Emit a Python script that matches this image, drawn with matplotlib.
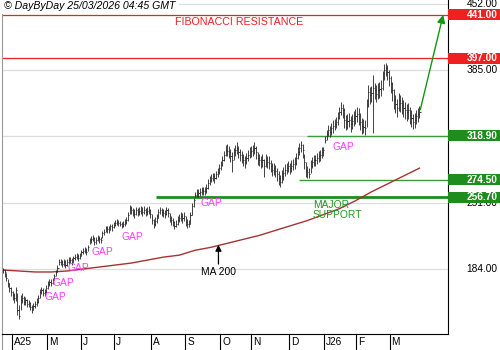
import matplotlib.pyplot as plt
from matplotlib.patches import Rectangle
from matplotlib.transforms import blended_transform_factory

plt.rcParams["font.family"] = ["Liberation Sans", "DejaVu Sans"]

# daily bars, one per trading day (late Mar 2025 -> Mar 2026)
close = [
    183, 181, 175, 170, 165, 161, 158, 155, 163, 143,
    137, 153, 155, 151, 153, 149, 150, 146, 143, 147,
    149, 151, 155, 161, 163, 160, 161, 165, 169, 171,
    170, 173, 177, 181, 185, 191, 191, 189, 191, 188,
    191, 193, 193, 191, 195, 196, 197, 195, 197, 201,
    202, 203, 201, 206, 213, 214, 215, 211, 213, 215,
    214, 213, 220, 221, 225, 224, 223, 228, 226, 229,
    231, 232, 231, 230, 228, 230, 232, 234, 239, 246,
    244, 242, 240, 244, 242, 243, 244, 242, 244, 242,
    243, 244, 240, 234, 230, 233, 236, 242, 244, 242,
    241, 240, 244, 241, 236, 234, 232, 228, 230, 234,
    236, 238, 236, 238, 232, 230, 230, 239, 248, 254,
    259, 262, 261, 262, 264, 263, 263, 266, 271, 274,
    276, 278, 276, 280, 282, 286, 289, 294, 299, 304,
    303, 302, 298, 294, 302, 304, 306, 302, 299, 297,
    294, 292, 296, 299, 302, 303, 304, 306, 302, 296,
    294, 292, 294, 288, 294, 292, 291, 288, 284, 286,
    283, 280, 276, 272, 278, 281, 284, 286, 288, 286,
    288, 290, 291, 296, 302, 306, 309, 304, 292, 284,
    282, 280, 288, 292, 294, 294, 296, 298, 299, 302,
    304, 314, 321, 325, 323, 327, 329, 331, 333, 337,
    343, 347, 345, 335, 333, 334, 335, 331, 334, 337,
    339, 341, 339, 333, 329, 328, 327, 350, 363, 360,
    362, 367, 365, 361, 365, 366, 367, 377, 385, 387,
    383, 377, 371, 365, 355, 351, 347, 355, 352, 350,
    347, 345, 343, 345, 340, 337, 333, 335, 339, 341,
    343,
]
high = [
    185, 184, 180, 174, 170, 166, 162, 160, 166, 160,
    148, 158, 160, 157, 156, 154, 153, 151, 148, 150,
    152, 155, 158, 164, 166, 165, 164, 168, 172, 174,
    174, 175, 179, 183, 188, 194, 194, 193, 194, 193,
    194, 196, 196, 195, 197, 199, 200, 199, 200, 203,
    205, 206, 205, 208, 215, 217, 218, 216, 216, 218,
    217, 216, 222, 224, 228, 227, 227, 230, 230, 232,
    234, 235, 234, 233, 232, 233, 235, 237, 242, 249,
    248, 246, 245, 247, 246, 247, 248, 247, 248, 246,
    247, 248, 245, 240, 235, 237, 240, 245, 247, 246,
    245, 244, 247, 246, 241, 238, 236, 233, 234, 238,
    240, 242, 241, 242, 238, 235, 234, 242, 251, 256,
    262, 265, 265, 266, 267, 267, 267, 270, 275, 278,
    280, 281, 281, 283, 286, 290, 293, 298, 303, 309,
    310, 308, 305, 302, 306, 309, 312, 308, 305, 303,
    300, 298, 301, 304, 307, 308, 309, 312, 308, 302,
    300, 298, 300, 295, 300, 298, 298, 294, 291, 291,
    289, 286, 283, 279, 284, 287, 290, 291, 293, 291,
    294, 295, 297, 301, 307, 311, 313, 310, 300, 292,
    288, 286, 294, 297, 299, 299, 301, 303, 304, 307,
    307, 318, 325, 330, 329, 332, 335, 336, 338, 343,
    348, 353, 351, 347, 340, 341, 342, 339, 341, 344,
    346, 348, 347, 342, 337, 336, 335, 356, 370, 368,
    369, 380, 372, 370, 372, 373, 375, 384, 391, 392,
    390, 385, 379, 373, 366, 360, 356, 362, 360, 358,
    355, 353, 351, 352, 348, 345, 341, 342, 345, 347,
    349,
]
low = [
    180, 176, 172, 166, 161, 157, 153, 150, 152, 138,
    133, 143, 150, 148, 148, 146, 146, 143, 140, 143,
    145, 147, 150, 155, 159, 157, 157, 160, 164, 167,
    167, 169, 173, 177, 181, 188, 188, 186, 187, 185,
    187, 189, 190, 188, 191, 193, 194, 192, 194, 197,
    199, 200, 198, 202, 209, 210, 212, 208, 209, 212,
    210, 210, 215, 218, 221, 220, 220, 223, 222, 225,
    227, 229, 228, 227, 225, 226, 228, 230, 233, 240,
    240, 238, 236, 239, 238, 239, 240, 238, 240, 238,
    239, 240, 236, 230, 225, 228, 231, 236, 240, 238,
    237, 236, 239, 237, 232, 229, 227, 224, 226, 229,
    232, 233, 231, 233, 228, 225, 226, 230, 239, 247,
    257, 257, 257, 258, 259, 259, 259, 261, 265, 269,
    272, 273, 271, 275, 277, 280, 284, 288, 293, 298,
    298, 296, 292, 282, 294, 298, 300, 296, 293, 291,
    288, 286, 290, 293, 296, 297, 298, 300, 295, 289,
    288, 286, 287, 277, 287, 286, 285, 282, 278, 279,
    277, 273, 269, 267, 271, 274, 278, 280, 282, 280,
    282, 284, 285, 289, 295, 299, 302, 296, 285, 277,
    276, 276, 281, 286, 288, 288, 290, 292, 293, 296,
    298, 311, 314, 318, 317, 320, 322, 325, 327, 330,
    336, 340, 337, 327, 325, 326, 328, 323, 326, 329,
    331, 333, 330, 325, 321, 322, 320, 328, 348, 351,
    353, 322, 356, 353, 356, 357, 359, 365, 375, 379,
    375, 369, 362, 354, 346, 342, 338, 344, 343, 341,
    338, 336, 334, 336, 331, 328, 326, 327, 331, 333,
    337,
]
# 200 day moving average, every 10th bar
ma_idx = list(range(0, 261, 10))
ma200 = [183, 182, 181, 181, 182, 184, 186, 188, 190, 193, 196, 198, 203, 206,
         210, 214, 218, 223, 228, 233, 239, 245, 253, 262, 270, 278, 286]

months = ["A25", "M", "J", "J", "A", "S", "O", "N", "D", "J26", "F", "M"]
month_start = [5.6, 27.5, 48.8, 69.4, 92.5, 113.8, 135.6, 155, 178.8, 200.6, 220.6, 241.3]

resistance = [441.00, 397.00]
support = [318.90, 274.50, 256.70]
grid_levels = [452, 385, 318, 251, 184]
gap_labels = [(26, 156), (30.6, 170), (40, 185), (55, 201), (73.8, 216.5),
              (123, 251), (205.6, 307.4)]
target = 441.00

RED = "#ee2020"
GREEN = "#1e8c1e"
LGREEN = "#3c9a3c"
PINK = "#ff3cff"

fig = plt.figure(figsize=(5, 3.5), dpi=100)
ax = fig.add_axes([0.003, 16 / 350, 446 / 500, 334 / 350])
ax.set_xlim(-0.94, 277.5)
ax.set_ylim(118.3, 456)
ax.set_xticks([])
ax.set_yticks([])
ax.spines["top"].set_visible(False)
ax.spines["left"].set_color("#999999")
ax.spines["right"].set_color("black")
ax.spines["bottom"].set_color("black")

for g in grid_levels:
    ax.axhline(g, color="#dddddd", lw=0.9, zorder=0)

# price bars
n = len(close)
idx = list(range(n))
ax.vlines(idx, low, high, color="#222222", lw=0.6, zorder=3)
ax.hlines(close, [i for i in idx], [i + 0.7 for i in idx], color="#222222", lw=0.6, zorder=3)

ax.plot(ma_idx, ma200, color="#a83232", lw=1.0, zorder=2)

# levels
for r in resistance:
    ax.axhline(r, color=RED, lw=0.9, zorder=1)
ax.hlines(support[0], 190, 277.5, color=LGREEN, lw=1.0, zorder=1)
ax.hlines(support[1], 185, 277.5, color=LGREEN, lw=1.0, zorder=1)
ax.hlines(support[2], 95.5, 277.5, color=GREEN, lw=2.0, zorder=1)

ax.text(107.5, 433.5, "FIBONACCI RESISTANCE", color=RED, fontsize=7.7,
        ha="left", va="center")
ax.text(193.5, 243.5, "MAJOR\nSUPPORT", color="#229922", fontsize=7.4,
        ha="left", va="center", linespacing=0.95)
for gx, gy in gap_labels:
    ax.text(gx, gy, "GAP", color=PINK, fontsize=7.4, ha="left", va="center")

ax.annotate("", xy=(134.5, 208.5), xytext=(134.5, 189),
            arrowprops=dict(arrowstyle="-|>", color="black", lw=0.9,
                            mutation_scale=9, shrinkA=0, shrinkB=0))
ax.text(134.5, 180.5, "MA 200", color="black", fontsize=7.4, ha="center", va="center")

# projection arrow
ax.annotate("", xy=(274.8, target), xytext=(260.5, close[-1] + 2),
            arrowprops=dict(arrowstyle="-|>", color="#139613", lw=1.0,
                            mutation_scale=12, shrinkA=0, shrinkB=0))

# right hand price scale
ty = blended_transform_factory(ax.transAxes, ax.transData)
xr = (497.5 - 1.5) / 446
for g in grid_levels:
    ax.text(xr, g, f"{g:.2f}", transform=ty, fontsize=7.3, ha="right",
            va="center", clip_on=False)
box_h = 11 / 0.989
for v, c in [(resistance[0], RED), (resistance[1], RED), (support[0], GREEN),
             (support[1], GREEN), (support[2], GREEN)]:
    ax.add_patch(Rectangle((1.002, v - box_h / 2), 0.12, box_h, transform=ty,
                           facecolor=c, edgecolor="none", clip_on=False, zorder=5))
    ax.text(xr, v, f"{v:.2f}", transform=ty, fontsize=7.3, ha="right",
            va="center", color="white", fontweight="bold", clip_on=False, zorder=6)

# month strip below the axis
tx = blended_transform_factory(ax.transData, ax.transAxes)
strip = 16 / 334
for m, s in zip(months, month_start):
    ax.plot([s, s], [0, -strip], transform=tx, color="black", lw=0.8, clip_on=False)
    ax.text(s + 1.2, -strip / 2, m, transform=tx, fontsize=7.3, ha="left",
            va="center", clip_on=False)
ax.plot([-0.94, -0.94], [0, -strip], transform=tx, color="#999999", lw=0.8, clip_on=False)

fig.text(0.008, 0.984, "\u00a9 DayByDay 25/03/2026 04:45 GMT", fontsize=7.6,
         style="italic", ha="left", va="center",
         bbox=dict(facecolor="white", edgecolor="none", pad=2.5))

fig.savefig("out.png", dpi=100)
